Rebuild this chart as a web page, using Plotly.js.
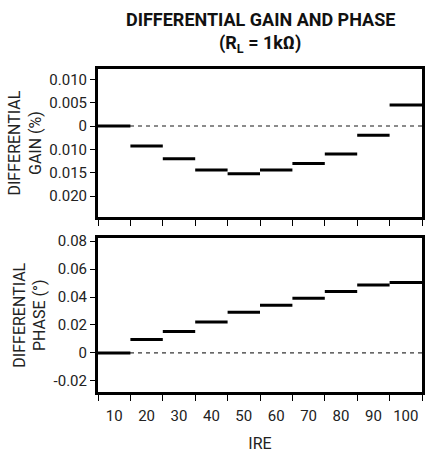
<!DOCTYPE html>
<html>
<head>
<meta charset="utf-8">
<script src="https://cdn.plot.ly/plotly-3.0.1.min.js"></script>
<style>html,body{margin:0;padding:0;background:#fff;}#chart{width:428px;height:457px;}</style>
</head>
<body>
<div id="chart"></div>
<script>
// IRE steps (category labels)
const ireLabels = ['10','20','30','40','50','60','70','80','90','100'];
// Differential gain (%), in axis units (labels below zero as printed on the original)
const gainValues = [0, -0.0043, -0.0070, -0.0094, -0.0102, -0.0094, -0.0080, -0.0060, -0.0020, 0.0045];
// Differential phase (degrees)
const phaseValues = [0, 0.0096, 0.0153, 0.0222, 0.0292, 0.0342, 0.0392, 0.0440, 0.0487, 0.0505];
// Y tick labels
const gainTickVals = [0.010, 0.005, 0, -0.005, -0.010, -0.015];
const gainTickText = ['0.010', '0.005', '0', '0.010', '0.015', '0.020'];
const phaseTickVals = [0.08, 0.06, 0.04, 0.02, 0, -0.02];
const phaseTickText = ['0.08', '0.06', '0.04', '0.02', '0', '-0.02'];

const FONT = 'Roboto, Liberation Sans, Arial, sans-serif';
const TXT = '#222';

function stepSegments(vals) {
  const x = [], y = [];
  vals.forEach((v, i) => { x.push(i, i + 1, null); y.push(v, v, null); });
  return {x, y};
}
const g = stepSegments(gainValues);
const p = stepSegments(phaseValues);

const traces = [
  {x: g.x, y: g.y, xaxis: 'x', yaxis: 'y', mode: 'lines', line: {color: '#000', width: 3}, hoverinfo: 'skip', showlegend: false},
  {x: p.x, y: p.y, xaxis: 'x2', yaxis: 'y2', mode: 'lines', line: {color: '#000', width: 3}, hoverinfo: 'skip', showlegend: false}
];

const halfVals = ireLabels.map((_, i) => i + 0.5);
const boundVals = ireLabels.map((_, i) => i).concat([ireLabels.length]);

function xAxis(anchor, showLabels) {
  return {
    anchor: anchor, domain: [0, 1], range: [0, ireLabels.length],
    showline: true, linewidth: 3, linecolor: '#000', mirror: true,
    showgrid: false, zeroline: false,
    tickmode: 'array', tickvals: halfVals, ticktext: ireLabels, ticks: '',
    showticklabels: showLabels, ticklabelstandoff: 8,
    tickfont: {family: FONT, size: 15, color: TXT},
    minor: {tickmode: 'array', tickvals: boundVals, ticks: 'outside', ticklen: 6, tickwidth: 1, tickcolor: '#000', showgrid: false}
  };
}
function yAxis(anchor, domain, range, vals, text, title) {
  return {
    anchor: anchor, domain: domain, range: range,
    showline: true, linewidth: 3, linecolor: '#000', mirror: true,
    showgrid: false, zeroline: false,
    tickmode: 'array', tickvals: vals, ticktext: text,
    ticks: 'outside', ticklen: 5, tickwidth: 1, tickcolor: '#000',
    tickfont: {family: FONT, size: 15, color: TXT},
    title: {text: title, font: {family: FONT, size: 16, color: TXT}, standoff: 4}
  };
}

const layout = {
  width: 428, height: 457,
  margin: {l: 98, r: 6, t: 69, b: 65},
  paper_bgcolor: '#fff', plot_bgcolor: '#fff',
  font: {family: FONT, color: TXT},
  xaxis: xAxis('y', false),
  xaxis2: Object.assign(xAxis('y2', true), {title: {text: 'IRE', font: {family: FONT, size: 16, color: TXT}, standoff: 14}}),
  yaxis: yAxis('x', [0.5414, 1], [-0.0195, 0.0122], gainTickVals, gainTickText, 'DIFFERENTIAL<br>GAIN (%)'),
  yaxis2: yAxis('x2', [0, 0.4754], [-0.028, 0.082], phaseTickVals, phaseTickText, 'DIFFERENTIAL<br>PHASE (°)'),
  annotations: [
    {text: '<b>DIFFERENTIAL GAIN AND PHASE</b>', xref: 'paper', x: 0.5, xanchor: 'center', yref: 'paper', y: (392 - 19) / 323, yanchor: 'middle', showarrow: false, font: {family: FONT, size: 18, color: '#111'}},
    {text: '<b>(R<sub>L</sub> = 1kΩ)</b>', xref: 'paper', x: 0.5, xanchor: 'center', yref: 'paper', y: (392 - 44) / 323, yanchor: 'middle', showarrow: false, font: {family: FONT, size: 18, color: '#111'}}
  ],
  shapes: [
    {type: 'line', xref: 'x domain', x0: 0, x1: 1, yref: 'y', y0: 0, y1: 0, layer: 'below', line: {color: '#666', width: 1.5, dash: '4px,4px'}},
    {type: 'line', xref: 'x2 domain', x0: 0, x1: 1, yref: 'y2', y0: 0, y1: 0, layer: 'below', line: {color: '#000', width: 1, dash: '4px,4px'}}
  ]
};

Plotly.newPlot('chart', traces, layout, {staticPlot: true, displayModeBar: false});
</script>
</body>
</html>
